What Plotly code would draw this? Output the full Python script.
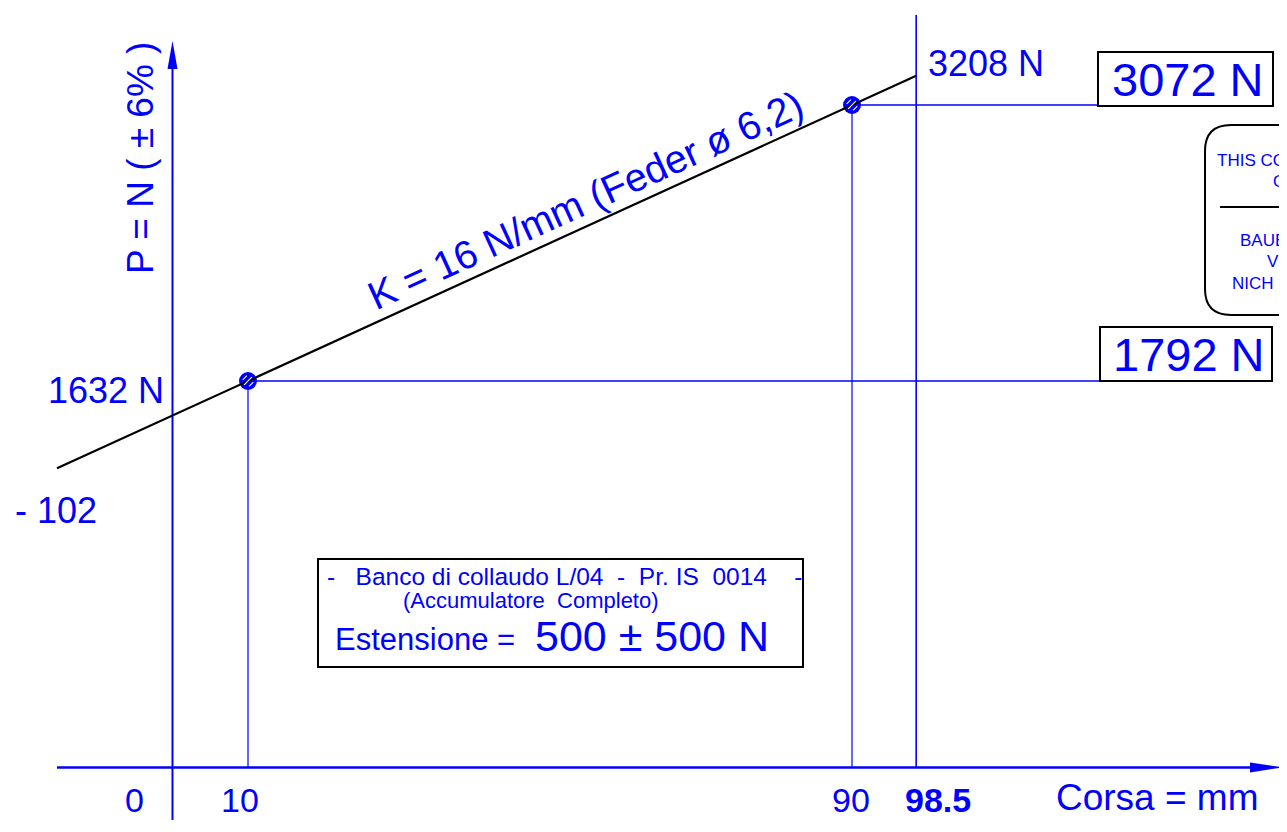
import plotly.graph_objects as go

# ---------------- data ----------------
stroke_line = [-15.3, 0, 98.5]          # mm
force_line = [1387, 1632, 3208]         # N  (K = 16 N/mm)
test_stroke = [10, 90]                  # mm
test_force = [1792, 3072]               # N
max_stroke = 98.5
tick_vals = [0, 10, 90, 98.5]
tick_text = ["0", "10", "90", "98.5"]
box_labels = ["1792 N", "3072 N"]
end_label = "3208 N"
start_label = "1632 N"

# ---------------- geometry (page pixels -> data) ----------------
OFF = 8
W, H = 1287 - 2 * OFF, 832 - 2 * OFF
PX_MM = 7.55
PX_N = 0.215625
X0 = 172.5
Y0 = 767.4


def xd(X):
    return (X - X0) / PX_MM


def yd(Y):
    return (Y0 - Y) / PX_N


BLUE = "#0000FF"
FONT = "Liberation Sans, Arial, sans-serif"
NB = "\u00a0"

fig = go.Figure()


def seg(xs, ys, color=BLUE, width=1.0):
    fig.add_trace(go.Scatter(x=xs, y=ys, mode="lines", line=dict(color=color, width=width),
                             hoverinfo="skip", showlegend=False))


# guide lines from the test points
for s, f, xe in zip(test_stroke, test_force, [xd(1100), xd(1098)]):
    seg([s, s], [0, f], width=1.2)
    seg([s, xe], [f, f], width=1.3)
# max stroke vertical
seg([max_stroke, max_stroke], [0, yd(15)], width=1.6)
# axes
seg([0, 0], [yd(820), yd(66)], width=2)
seg([xd(57), xd(1254)], [0, 0], width=2.5)

# test point markers (hatched circles)
fig.add_trace(go.Scatter(x=test_stroke, y=test_force, mode="markers",
                         marker=dict(size=18, color=BLUE, line=dict(width=0)),
                         hoverinfo="skip", showlegend=False))

shapes = []
# hatch strokes inside the markers (decoration, pixel offsets around each point)
for s, f in zip(test_stroke, test_force):
    px, py = X0 + s * PX_MM, Y0 - f * PX_N
    for o, ln in [(-4.5, 3.0), (0, 5.5), (4.5, 3.0)]:
        cx, cy = px + o * 0.707, py + o * 0.707
        shapes.append(dict(type="line", xref="x", yref="y", layer="above",
                           x0=xd(cx - ln * 0.707), y0=yd(cy + ln * 0.707),
                           x1=xd(cx + ln * 0.707), y1=yd(cy - ln * 0.707),
                           line=dict(color="white", width=1.1)))

# spring characteristic
fig.add_trace(go.Scatter(x=stroke_line, y=force_line, mode="lines",
                         line=dict(color="black", width=2.2),
                         hoverinfo="skip", showlegend=False))

# arrowheads
hy = 5 / PX_N
shapes.append(dict(type="path", xref="x", yref="y", fillcolor=BLUE, line=dict(width=0),
                   path=f"M {xd(1250)},{hy} L {xd(1283)},0 L {xd(1250)},{-hy} Z"))
hx = 5 / PX_MM
shapes.append(dict(type="path", xref="x", yref="y", fillcolor=BLUE, line=dict(width=0),
                   path=f"M {-hx},{yd(69)} L 0,{yd(41)} L {hx},{yd(69)} Z"))
# value boxes
shapes.append(dict(type="rect", xref="x", yref="y", x0=xd(1098), x1=xd(1273), y0=yd(106), y1=yd(52),
                   line=dict(color="black", width=2)))
shapes.append(dict(type="rect", xref="x", yref="y", x0=xd(1100), x1=xd(1272), y0=yd(381), y1=yd(327),
                   line=dict(color="black", width=2)))
# test bench box
shapes.append(dict(type="rect", xref="x", yref="y", x0=xd(318), x1=xd(803), y0=yd(667), y1=yd(559),
                   line=dict(color="black", width=2)))
# rounded note box (cut by the page edge)
L, T, B, R, r = 1205, 125, 315, 1420, 26
p = (f"M {xd(L + r)},{yd(T)} L {xd(R)},{yd(T)} L {xd(R)},{yd(B)} L {xd(L + r)},{yd(B)} "
     f"Q {xd(L)},{yd(B)} {xd(L)},{yd(B - r)} L {xd(L)},{yd(T + r)} Q {xd(L)},{yd(T)} {xd(L + r)},{yd(T)} Z")
shapes.append(dict(type="path", xref="x", yref="y", path=p, line=dict(color="black", width=2)))
shapes.append(dict(type="line", xref="x", yref="y", x0=xd(1220), x1=xd(1400), y0=yd(207), y1=yd(207),
                   line=dict(color="black", width=2)))

ann = []


def text(t, X, Y, size, xanchor="center", angle=0, bold=False, color=BLUE):
    ann.append(dict(text=f"<b>{t}</b>" if bold else t, x=xd(X), y=yd(Y), xref="x", yref="y",
                    showarrow=False, xanchor=xanchor, yanchor="middle", textangle=angle,
                    font=dict(family=FONT, size=size, color=color)))


# axis labels
text("P = N ( ± 6% )", 140, 158, 37, angle=-90)
text("Corsa = mm", 1157, 797, 37)
tick_px = [134, 240, 851, 938]
for tv, tt, X in zip(tick_vals, tick_text, tick_px):
    text(tt, X, 800, 34, bold=(tv == max_stroke))
# value labels
text(start_label, 166, 390, 36, xanchor="right")
text("- 102", 13, 510, 36, xanchor="left")
text(end_label, 926, 63, 36, xanchor="left")
text(box_labels[1], 1188, 79, 47)
text(box_labels[0], 1189, 354, 47)
# slope label
text("K = 16 N/mm (Feder ø 6,2)", 585, 200, 39.5, angle=-24.5)
# test bench box text
text(f"-{NB*3}Banco di collaudo L/04{NB*2}-{NB*2}Pr. IS{NB*2}0014{NB*4}-", 325, 576, 24.5, xanchor="left")
text(f"(Accumulatore{NB*2}Completo)", 401, 600, 22, xanchor="left")
text("Estensione =", 333, 639, 31, xanchor="left")
text("500 ± 500 N", 533, 636, 43, xanchor="left")
# note box (clipped by the page edge, as in the drawing)
text("THIS CO", 1215, 160, 17, xanchor="left")
text("O", 1271, 181, 17, xanchor="left")
text("BAUE", 1238, 240, 17, xanchor="left")
text("V", 1265, 261, 17, xanchor="left")
text("NICH C", 1230, 283, 17, xanchor="left")

fig.update_layout(
    width=W, height=H, margin=dict(l=0, r=0, t=0, b=0),
    paper_bgcolor="white", plot_bgcolor="white",
    xaxis=dict(range=[xd(OFF), xd(OFF + W)], visible=False, fixedrange=True),
    yaxis=dict(range=[yd(OFF + H), yd(OFF)], visible=False, fixedrange=True),
    shapes=shapes, annotations=ann, showlegend=False,
)
fig.write_html("out.html")
